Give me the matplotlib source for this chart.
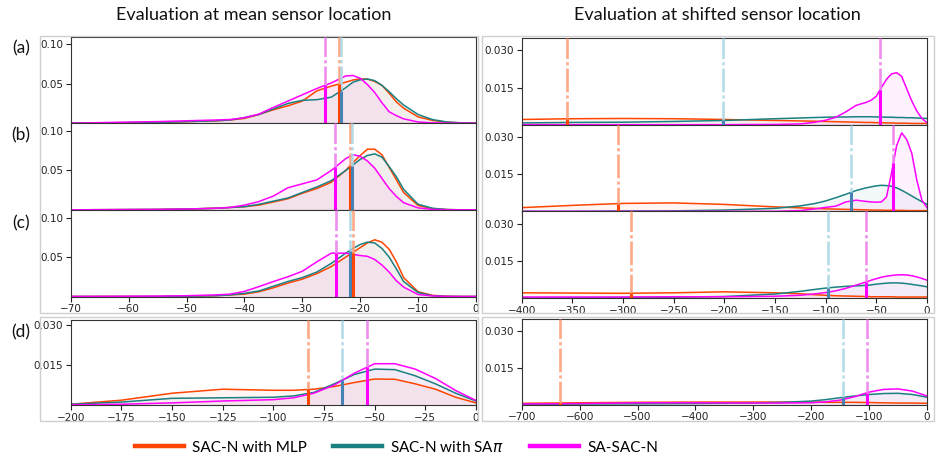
import matplotlib.pyplot as plt
from matplotlib.lines import Line2D
from matplotlib.patches import Rectangle
import numpy as np

# ── Data (densities) ─────────────────────────────────────────────────────────
LABELS = ["SAC-N with MLP", "SAC-N with SA$\\pi$", "SA-SAC-N"]
PANEL_TAGS = ["(a)", "(b)", "(c)", "(d)"]

# mean sensor location, panels (a)-(c)
X_MEAN = [-70, -55, -50, -45, -42.5, -40, -37.5, -35, -32.5, -30, -27.5, -25,
          -22.5, -21.25, -20, -18.75, -17.5, -16.25, -15, -13.75, -12.5, -10, -7.5, -5, -2.5, 0]
MEAN_A_MLP = [0, 0.001, 0.002, 0.003, 0.004, 0.006, 0.011, 0.017, 0.022, 0.028, 0.041, 0.047,
              0.052, 0.0548, 0.0562, 0.056, 0.053, 0.048, 0.038, 0.027, 0.019, 0.008, 0.0035,
              0.0012, 0.0003, 0]
MEAN_A_SAPI = [0, 0.001, 0.002, 0.003, 0.004, 0.007, 0.011, 0.018, 0.025, 0.029, 0.0298, 0.033,
               0.045, 0.052, 0.055, 0.056, 0.054, 0.048, 0.040, 0.031, 0.023, 0.011, 0.0045,
               0.0015, 0.0004, 0]
MEAN_A_SA = [0, 0.002, 0.003, 0.004, 0.0046, 0.007, 0.0115, 0.020, 0.028, 0.036, 0.044, 0.051,
             0.060, 0.0605, 0.057, 0.049, 0.039, 0.026, 0.0145, 0.0095, 0.0055, 0.0015, 0.0004,
             0.0001, 0, 0]
MEAN_B_MLP = [0, 0.0005, 0.001, 0.002, 0.003, 0.004, 0.006, 0.010, 0.014, 0.021, 0.027, 0.035,
              0.050, 0.060, 0.069, 0.077, 0.077, 0.070, 0.054, 0.038, 0.022, 0.0055, 0.0015,
              0.0003, 0, 0]
MEAN_B_SAPI = [0, 0.0005, 0.001, 0.002, 0.003, 0.004, 0.007, 0.011, 0.015, 0.022, 0.029, 0.037,
               0.050, 0.057, 0.064, 0.069, 0.071, 0.067, 0.055, 0.042, 0.026, 0.007, 0.002,
               0.0004, 0, 0]
MEAN_B_SA = [0, 0.0005, 0.001, 0.002, 0.003, 0.006, 0.0105, 0.0175, 0.028, 0.033, 0.038, 0.050,
             0.065, 0.070, 0.068, 0.062, 0.053, 0.040, 0.027, 0.017, 0.009, 0.0025, 0.0005,
             0.0001, 0, 0]
MEAN_C_MLP = [0, 0, 0.0005, 0.001, 0.002, 0.003, 0.006, 0.011, 0.017, 0.022, 0.029, 0.038,
              0.050, 0.056, 0.062, 0.068, 0.072, 0.069, 0.060, 0.044, 0.024, 0.006, 0.0015,
              0.0003, 0, 0]
MEAN_C_SAPI = [0, 0, 0.0005, 0.001, 0.002, 0.004, 0.007, 0.013, 0.019, 0.024, 0.031, 0.042,
               0.055, 0.061, 0.066, 0.069, 0.068, 0.061, 0.050, 0.035, 0.019, 0.005, 0.001,
               0.0002, 0, 0]
MEAN_C_SA = [0, 0.0005, 0.001, 0.002, 0.003, 0.0065, 0.0125, 0.019, 0.025, 0.032, 0.044, 0.055,
             0.055, 0.0535, 0.052, 0.051, 0.047, 0.040, 0.031, 0.020, 0.012, 0.0025, 0.0007,
             0.0001, 0, 0]

# mean sensor location, panel (d)
X_MEAN_D = [-200, -175, -150, -125, -100, -90, -80, -70, -60, -50, -40, -30, -20, -10, 0]
MEAN_D_MLP = [0.0004, 0.0019, 0.0045, 0.006, 0.0056, 0.0056, 0.006, 0.007, 0.0085, 0.0098,
              0.0097, 0.008, 0.006, 0.003, 0.0009]
MEAN_D_SAPI = [0.0004, 0.0012, 0.0026, 0.0028, 0.003, 0.0035, 0.0048, 0.008, 0.0115, 0.0135,
               0.0133, 0.011, 0.008, 0.0045, 0.0016]
MEAN_D_SA = [0.0002, 0.0004, 0.0009, 0.0016, 0.0021, 0.0028, 0.0045, 0.0075, 0.012, 0.0155,
             0.0155, 0.0135, 0.010, 0.0055, 0.0018]

# shifted sensor location, panels (a)-(c)
X_SHIFT = [-400, -350, -300, -250, -200, -150, -125, -110, -100, -90, -80, -70, -60, -55,
           -50, -45, -40, -35, -30, -25, -20, -15, -10, -5, 0]
SHIFT_A_MLP = [0.0021, 0.0024, 0.0025, 0.0024, 0.0021, 0.0017, 0.0015, 0.0014, 0.0013, 0.0012,
               0.0011, 0.001, 0.0009, 0.0009, 0.0008, 0.0008, 0.0007, 0.0007, 0.0006, 0.0006,
               0.0006, 0.0005, 0.0005, 0.0005, 0.0005]
SHIFT_A_SAPI = [0.0007, 0.0009, 0.001, 0.0013, 0.0017, 0.0024, 0.0027, 0.0029, 0.003, 0.0031,
                0.0031, 0.0032, 0.0032, 0.0032, 0.0031, 0.0031, 0.003, 0.003, 0.0029, 0.0029,
                0.0028, 0.0028, 0.0027, 0.0026, 0.0025]
SHIFT_A_SA = [0, 0, 0, 0, 0, 0.0001, 0.0003, 0.001, 0.0018, 0.003, 0.0052, 0.0078, 0.009,
              0.0099, 0.0115, 0.015, 0.0183, 0.0205, 0.021, 0.0195, 0.0145, 0.0095, 0.0055,
              0.0025, 0.0008]
SHIFT_B_MLP = [0.0015, 0.0024, 0.0032, 0.0034, 0.0028, 0.0018, 0.0014, 0.0012, 0.001, 0.0009,
               0.0008, 0.0007, 0.0006, 0.0005, 0.0005, 0.0005, 0.0004, 0.0004, 0.0004, 0.0004,
               0.0003, 0.0003, 0.0003, 0.0003, 0.0003]
SHIFT_B_SAPI = [0, 0, 0.0001, 0.0002, 0.0005, 0.0012, 0.0022, 0.0032, 0.0042, 0.0055, 0.0069,
                0.0084, 0.0095, 0.0099, 0.0103, 0.0105, 0.0104, 0.0101, 0.0095, 0.0085, 0.0074,
                0.0062, 0.005, 0.0039, 0.0028]
SHIFT_B_SA = [0, 0, 0, 0, 0, 0, 0.0003, 0.001, 0.0016, 0.0021, 0.0038, 0.0045, 0.004, 0.0038,
              0.0037, 0.0038, 0.0058, 0.0155, 0.0265, 0.0317, 0.029, 0.0234, 0.0125, 0.0045,
              0.0015]
SHIFT_C_MLP = [0.0021, 0.002, 0.0019, 0.0021, 0.0025, 0.0021, 0.0017, 0.0013, 0.0011, 0.0009,
               0.0008, 0.0007, 0.0006, 0.0005, 0.0005, 0.0005, 0.0005, 0.0005, 0.0004, 0.0004,
               0.0004, 0.0004, 0.0004, 0.0004, 0.0004]
SHIFT_C_SAPI = [0, 0.0001, 0.0002, 0.0003, 0.0006, 0.0016, 0.0027, 0.0035, 0.004, 0.0044,
                0.0047, 0.0049, 0.0051, 0.0053, 0.0056, 0.0058, 0.006, 0.0061, 0.0061, 0.006,
                0.0058, 0.0055, 0.0052, 0.0049, 0.0045]
SHIFT_C_SA = [0.0004, 0.0004, 0.0004, 0.0005, 0.0005, 0.0007, 0.0011, 0.0017, 0.0022, 0.0029,
              0.0039, 0.0052, 0.0065, 0.0072, 0.0078, 0.0084, 0.0088, 0.0091, 0.0093, 0.0094,
              0.0093, 0.009, 0.0085, 0.0079, 0.0072]

# shifted sensor location, panel (d)
X_SHIFT_D = [-700, -650, -600, -500, -400, -300, -250, -200, -175, -150, -125, -100, -75,
             -50, -25, 0]
SHIFT_D_MLP = [0.0005, 0.0006, 0.0007, 0.0009, 0.001, 0.001, 0.001, 0.001, 0.0009, 0.0009,
               0.0009, 0.0008, 0.0007, 0.0006, 0.0006, 0.0005]
SHIFT_D_SAPI = [0.0001, 0.0001, 0.0002, 0.0003, 0.0004, 0.0006, 0.0009, 0.0014, 0.002,
                0.0028, 0.0035, 0.0041, 0.0045, 0.0046, 0.0041, 0.003]
SHIFT_D_SA = [0.0002, 0.0003, 0.0004, 0.0007, 0.0007, 0.0006, 0.0006, 0.0007, 0.0011,
              0.0018, 0.0032, 0.0051, 0.0062, 0.0064, 0.0055, 0.0035]

# median returns (vertical markers): MLP, SApi, SA-SAC-N
MED_MEAN_A = [-23.7, -23.4, -26.0]
MED_MEAN_B = [-21.8, -21.4, -24.3]
MED_MEAN_C = [-21.3, -21.8, -24.2]
MED_MEAN_D = [-82.7, -66.3, -54.0]
MED_SHIFT_A = [-355.6, -201.0, -46.4]
MED_SHIFT_B = [-305.3, -75.0, -33.2]
MED_SHIFT_C = [-292.1, -98.0, -60.5]
MED_SHIFT_D = [-633.8, -144.5, -104.2]

# ── Style ────────────────────────────────────────────────────────────────────
LINE_COLORS = ["#FF4500", "#1a8080", "#FF00FF"]
DASH_COLORS = ["#FFA07A", "#ADD8E6", "#EE82EE"]
SOLID_COLORS = ["#FF4500", "#4682B4", "#FF00FF"]
TEXT_FONT = "Lato"
W, H = 936, 462

plt.rcParams.update({
    "axes.edgecolor": "#333333",
    "axes.linewidth": 0.8,
    "xtick.labelsize": 7.5,
    "ytick.labelsize": 7.5,
    "xtick.color": "#222222",
    "ytick.color": "#222222",
})

fig = plt.figure(figsize=(W / 100, H / 100), dpi=100)


def px_rect(x0, y0, x1, y1):
    """Pixel box (top-left origin) -> figure fraction rect."""
    return [x0 / W, 1 - y1 / H, (x1 - x0) / W, (y1 - y0) / H]


def draw_panel(ax, x, curves, medians, xlim, ylim, yticks, ytl, xticks, show_x):
    for dens, c in zip(curves, LINE_COLORS):
        ax.fill_between(x, dens, color=c, alpha=0.05, lw=0, zorder=1)
    for dens, c in zip(curves, LINE_COLORS):
        ax.plot(x, dens, color=c, lw=1.1, zorder=2)
    for dens, med, dc, sc in zip(curves, medians, DASH_COLORS, SOLID_COLORS):
        ax.axvline(med, color=dc, lw=1.9, ls=(0, (9, 1.2, 1.2, 1.2)), alpha=0.9, zorder=3)
        ax.vlines(med, 0, np.interp(med, x, dens), color=sc, lw=2.2, zorder=4)
    ax.set_xlim(*xlim)
    ax.set_ylim(*ylim)
    ax.set_yticks(yticks)
    ax.set_yticklabels(ytl)
    ax.set_xticks(xticks)
    ax.tick_params(length=3.5, width=0.8, pad=2)
    if not show_x:
        ax.tick_params(labelbottom=False)


# ── Panel group frames (light boxes) ─────────────────────────────────────────
for box in [(40, 36, 478, 313), (482, 36, 934, 313), (40, 317, 478, 421), (482, 317, 934, 421)]:
    r = px_rect(*box)
    fig.add_artist(Rectangle((r[0], r[1]), r[2], r[3], transform=fig.transFigure,
                             fill=False, edgecolor="#cfcfcf", lw=1.0))

# ── Panels ───────────────────────────────────────────────────────────────────
mean_curves = [(MEAN_A_MLP, MEAN_A_SAPI, MEAN_A_SA),
               (MEAN_B_MLP, MEAN_B_SAPI, MEAN_B_SA),
               (MEAN_C_MLP, MEAN_C_SAPI, MEAN_C_SA)]
mean_meds = [MED_MEAN_A, MED_MEAN_B, MED_MEAN_C]
shift_curves = [(SHIFT_A_MLP, SHIFT_A_SAPI, SHIFT_A_SA),
                (SHIFT_B_MLP, SHIFT_B_SAPI, SHIFT_B_SA),
                (SHIFT_C_MLP, SHIFT_C_SAPI, SHIFT_C_SA)]
shift_meds = [MED_SHIFT_A, MED_SHIFT_B, MED_SHIFT_C]

panel_h = (296.5 - 36.5) / 3
panel_hr = (298 - 38) / 3
for i in range(3):
    top = 36.5 + i * panel_h
    ax = fig.add_axes(px_rect(70.7, top, 476, top + panel_h))
    draw_panel(ax, X_MEAN, mean_curves[i], mean_meds[i], (-70, 0), (0, 0.11),
               [0.05, 0.10], ["0.05", "0.10"], np.arange(-70, 1, 10), i == 2)

    top_r = 38 + i * panel_hr
    ax = fig.add_axes(px_rect(521.7, top_r, 927, top_r + panel_hr))
    draw_panel(ax, X_SHIFT, shift_curves[i], shift_meds[i], (-400, 0), (0, 0.035),
               [0.015, 0.030], ["0.015", "0.030"], np.arange(-400, 1, 50), i == 2)

ax = fig.add_axes(px_rect(70.7, 320, 476, 405.3))
draw_panel(ax, X_MEAN_D, (MEAN_D_MLP, MEAN_D_SAPI, MEAN_D_SA), MED_MEAN_D, (-200, 0),
           (0, 0.0318), [0.015, 0.030], ["0.015", "0.030"], np.arange(-200, 1, 25), True)

ax = fig.add_axes(px_rect(521.7, 319.3, 927, 404.5))
draw_panel(ax, X_SHIFT_D, (SHIFT_D_MLP, SHIFT_D_SAPI, SHIFT_D_SA), MED_SHIFT_D, (-700, 0),
           (0, 0.035), [0.015, 0.030], ["0.015", "0.030"], np.arange(-700, 1, 100), True)

# ── Titles, panel tags, legend ──────────────────────────────────────────────
fig.text(254 / W, 1 - 15 / H, "Evaluation at mean sensor location", ha="center", va="center",
         family=TEXT_FONT, fontsize=13, color="#111111")
fig.text(717 / W, 1 - 15 / H, "Evaluation at shifted sensor location", ha="center", va="center",
         family=TEXT_FONT, fontsize=13, color="#111111")
for tag, y in zip(PANEL_TAGS, [48, 135, 223, 332]):
    fig.text(21 / W, 1 - y / H, tag, ha="center", va="center", family=TEXT_FONT,
             fontsize=12.5, color="#111111")

handles = [Line2D([], [], color=c, lw=3.2) for c in LINE_COLORS]
fig.legend(handles, LABELS, loc="center", bbox_to_anchor=(396.5 / W, 1 - 447 / H), ncol=3,
           frameon=False, handlelength=3.2, handletextpad=0.52, columnspacing=1.75,
           prop={"family": TEXT_FONT, "size": 11})

fig.savefig("out.png", dpi=100)
